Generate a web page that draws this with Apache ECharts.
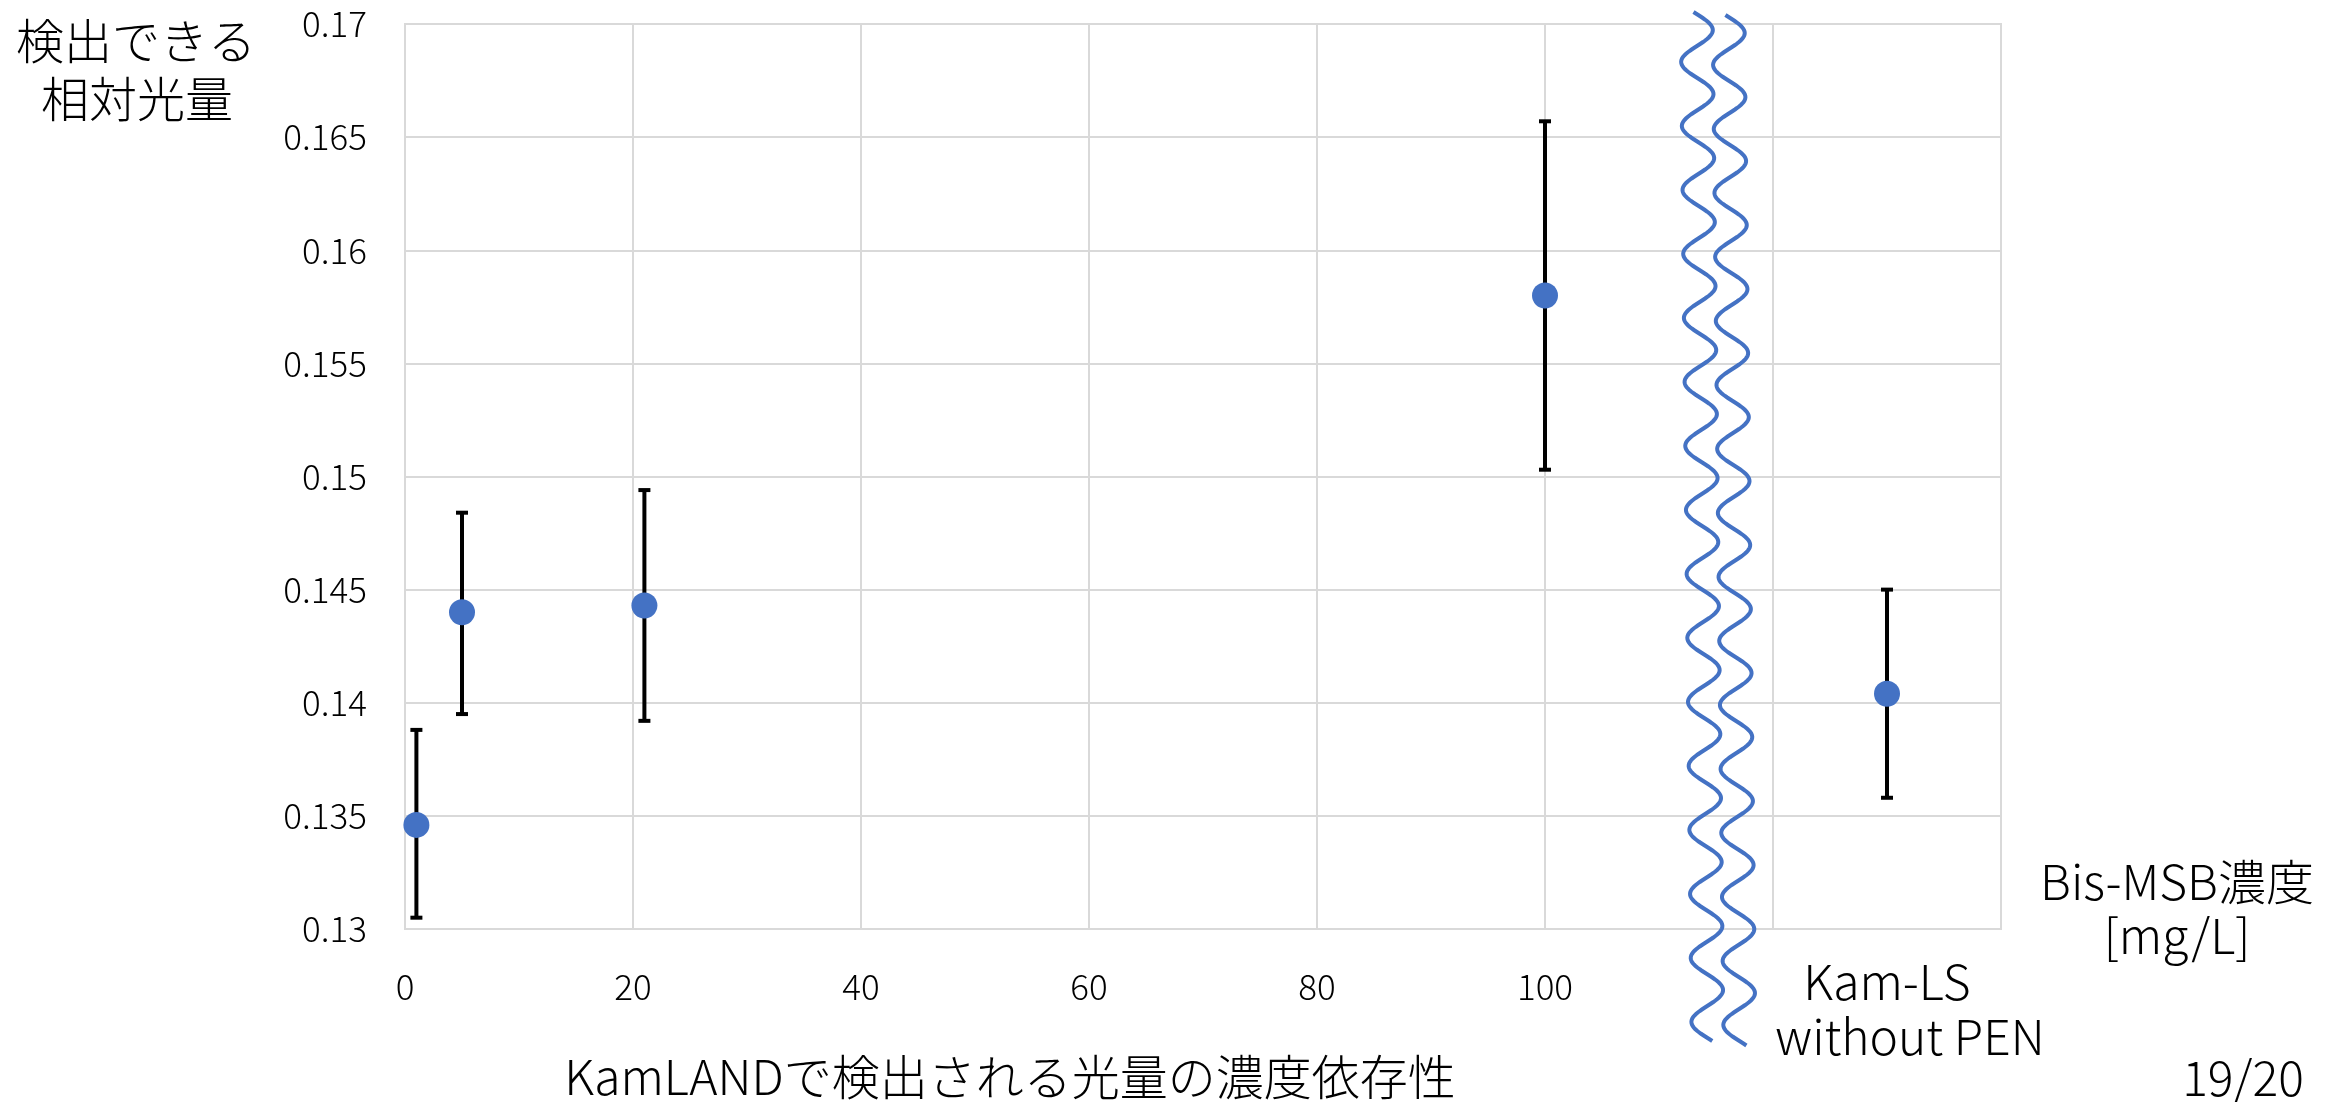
<!DOCTYPE html>
<html>
<head>
<meta charset="utf-8">
<style>
  html, body { margin: 0; padding: 0; background: #ffffff; }
  #chart { width: 2346px; height: 1102px; }
</style>
<script src="https://cdn.jsdelivr.net/npm/echarts@6/dist/echarts.min.js"></script>
</head>
<body>
<div id="chart"></div>
<script>
// Bis-MSB concentration [mg/L]; the last point (130) stands for Kam-LS without PEN
const concentrations = [1, 5, 21, 100, 130];
// Relative detectable light yield
const lightYield = [0.1346, 0.1440, 0.1443, 0.1580, 0.1404];
const errorLow  = [0.1305, 0.1395, 0.1392, 0.1503, 0.1358];
const errorHigh = [0.1388, 0.1484, 0.1494, 0.1657, 0.1450];
// Tick labels printed on the concentration axis
const xTickLabels = ['0', '20', '40', '60', '80', '100'];
// Axis break position (in mg/L) for the two wavy lines
const breakPositions = [113.3, 116.1];

const FONT = '"Noto Sans CJK JP", "Noto Sans", sans-serif';
const WEIGHT = 300;
const BLUE = '#4472C4';
const GRID = '#d9d9d9';

const chart = echarts.init(document.getElementById('chart'), null, { renderer: 'canvas' });

const option = {
  backgroundColor: '#ffffff',
  animation: false,
  grid: {
    left: 405, top: 24, right: 345, bottom: 173,
    show: true, borderColor: GRID, borderWidth: 2
  },
  xAxis: {
    type: 'value', min: 0, max: 140, interval: 20,
    axisLine: { show: false },
    axisTick: { show: false },
    splitLine: { show: true, lineStyle: { color: GRID, width: 2 } },
    axisLabel: {
      margin: 40, color: '#000', fontSize: 35, fontFamily: FONT, fontWeight: WEIGHT,
      formatter: function (v) {
        const s = String(v);
        return xTickLabels.indexOf(s) >= 0 ? s : '';
      }
    }
  },
  yAxis: {
    type: 'value', min: 0.13, max: 0.17, interval: 0.005,
    axisLine: { show: false },
    axisTick: { show: false },
    splitLine: { show: true, lineStyle: { color: GRID, width: 2 } },
    axisLabel: {
      margin: 38, color: '#000', fontSize: 35, fontFamily: FONT, fontWeight: WEIGHT,
      formatter: function (v) { return String(parseFloat(v.toFixed(3))); }
    }
  },
  series: [
    {
      // vertical error bars with caps
      type: 'custom',
      data: concentrations.map((x, i) => [x, errorLow[i], errorHigh[i]]),
      z: 2,
      renderItem: function (params, api) {
        const x = api.value(0);
        const lo = api.coord([x, api.value(1)]);
        const hi = api.coord([x, api.value(2)]);
        const cap = 6;
        const style = { stroke: '#000', lineWidth: 4 };
        return {
          type: 'group',
          children: [
            { type: 'line', shape: { x1: lo[0], y1: lo[1], x2: hi[0], y2: hi[1] }, style: style },
            { type: 'line', shape: { x1: hi[0] - cap, y1: hi[1], x2: hi[0] + cap, y2: hi[1] }, style: style },
            { type: 'line', shape: { x1: lo[0] - cap, y1: lo[1], x2: lo[0] + cap, y2: lo[1] }, style: style }
          ]
        };
      }
    },
    {
      type: 'scatter',
      data: concentrations.map((x, i) => [x, lightYield[i]]),
      symbol: 'circle', symbolSize: 26, z: 3,
      itemStyle: { color: BLUE, opacity: 1 }
    }
  ]
};

chart.setOption(option);

// Wavy break lines, placed from the axis scale
function wavePoints(xTop, xBottom, yTop, yBottom, amp, period, phaseY) {
  const pts = [];
  for (let y = yTop; y <= yBottom; y += 1.5) {
    const t = (y - yTop) / (yBottom - yTop);
    const cx = xTop + (xBottom - xTop) * t;
    pts.push([cx + amp * Math.cos(2 * Math.PI * (y - phaseY) / period), y]);
  }
  return pts;
}

const xl = chart.convertToPixel({ xAxisIndex: 0 }, breakPositions[0]);
const xr = chart.convertToPixel({ xAxisIndex: 0 }, breakPositions[1]);
const drift = 11;

const textStyle = (text, x, y, align) => ({
  type: 'text', x: x, y: y,
  style: { text: text, font: WEIGHT + ' 48px ' + FONT, fill: '#000', textAlign: align || 'center', textVerticalAlign: 'middle' }
});

chart.setOption({
  graphic: [
    { type: 'polyline', shape: { points: wavePoints(xl, xl + drift, 12, 1042, 16, 64, 30), smooth: 0 },
      style: { stroke: BLUE, lineWidth: 4, fill: null }, z: 10 },
    { type: 'polyline', shape: { points: wavePoints(xr, xr + drift, 15, 1046, 16, 64, 33), smooth: 0 },
      style: { stroke: BLUE, lineWidth: 4, fill: null }, z: 10 },
    textStyle('検出できる', 136, 41),
    textStyle('相対光量', 137, 99),
    textStyle('KamLANDで検出される光量の濃度依存性', 1010, 1077),
    textStyle('Kam-LS', 1887, 982),
    textStyle('without PEN', 1910, 1037),
    textStyle('Bis-MSB濃度', 2177, 882),
    textStyle('[mg/L]', 2177, 936),
    textStyle('19/20', 2243, 1078)
  ]
});
</script>
</body>
</html>
